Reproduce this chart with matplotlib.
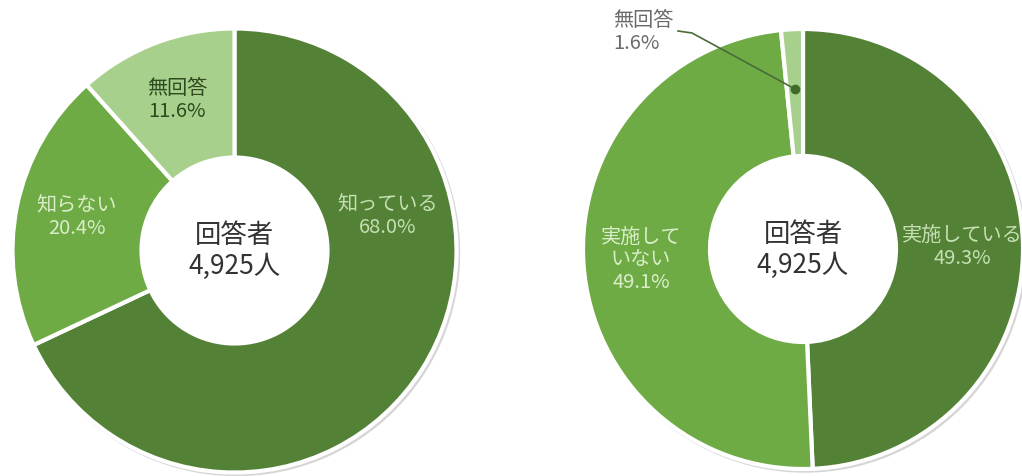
import matplotlib.pyplot as plt
from matplotlib.patches import Wedge

plt.rcParams['font.family'] = ['Noto Sans CJK JP', 'DejaVu Sans']

W, H = 1022, 476

# data
left_labels = ['知っている', '知らない', '無回答']
left_values = [68.0, 20.4, 11.6]
right_labels = ['実施している', '実施して\nいない', '無回答']
right_values = [49.3, 49.1, 1.6]
respondents = 4925

dark = '#538135'
mid = '#6fab45'
light = '#a8d08d'
colors = [dark, mid, light]


def donut(ax, cx, cy, R, r, values):
    y = H - cy
    # faint drop shadow along the outer rim
    shadow = Wedge((cx + 2, y - 2), R + 1, 0, 360, width=8, color='#d6d6d6', zorder=0)
    ax.add_patch(shadow)
    ax.pie(values, colors=colors, startangle=90, counterclock=False,
           center=(cx, y), radius=R, frame=True,
           wedgeprops=dict(width=R - r, edgecolor='white', linewidth=3))
    ax.text(cx, y + 15, '回答者', ha='center', va='center', fontsize=19, color='#333333')
    ax.text(cx, y - 16, '{:,}人'.format(respondents), ha='center', va='center',
            fontsize=19, color='#333333')


def label(ax, x, y, name, val, color, ha='center'):
    ax.text(x, H - y, '{}\n{:.1f}%'.format(name, val), ha=ha, va='center',
            fontsize=14.5, color=color, linespacing=1.1)


fig = plt.figure(figsize=(W / 100, H / 100), dpi=100)
ax = fig.add_axes([0, 0, 1, 1])

donut(ax, 234.5, 250.5, 222, 93, left_values)
donut(ax, 803, 249, 220, 93, right_values)

label(ax, 388, 216, left_labels[0], left_values[0], '#c5e0b3')
label(ax, 77, 217, left_labels[1], left_values[1], '#d9edc9')
label(ax, 177, 100, left_labels[2], left_values[2], '#2f4a1e')

label(ax, 962, 247, right_labels[0], right_values[0], '#c5e0b3')
label(ax, 641, 260, right_labels[1], right_values[1], '#d9edc9')
label(ax, 613, 32, right_labels[2], right_values[2], '#6b6b6b', ha='left')

# leader line for the small slice
ax.plot([678, 692, 795], [H - 31, H - 33, H - 89], color='#4a6b3a', linewidth=1.2)
ax.plot([795], [H - 89], 'o', color='#3f6a2a', markersize=6)

ax.set_xlim(0, W)
ax.set_ylim(0, H)
ax.set_aspect('equal')
ax.axis('off')

plt.savefig('out.png', dpi=100)
